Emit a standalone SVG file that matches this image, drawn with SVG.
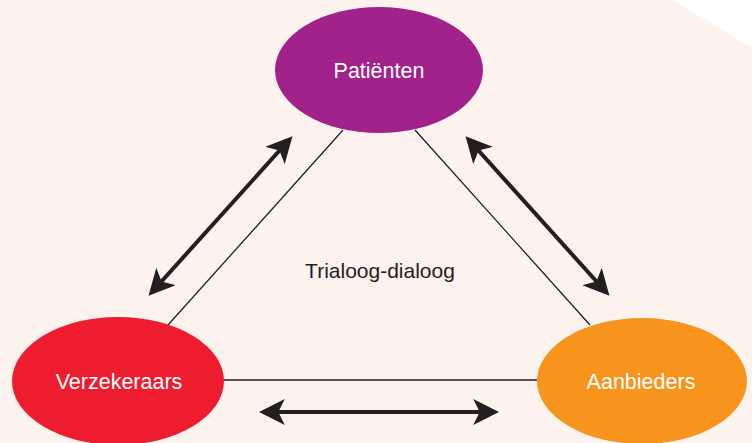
<svg xmlns="http://www.w3.org/2000/svg" width="752" height="443" viewBox="0 0 752 443">
<style>
.lbl{font-family:"Liberation Sans",Arial,sans-serif;font-size:21.5px;fill:#ffffff;text-anchor:middle;dominant-baseline:central}
.thin{stroke:#231f20;stroke-width:1.3;fill:none}
.arr{stroke:#231f20;stroke-width:4;fill:none;marker-start:url(#ah);marker-end:url(#ah)}
</style>
<defs>
<marker id="ah" viewBox="0 0 10 10" refX="8" refY="5" markerWidth="6.5" markerHeight="6.5" orient="auto-start-reverse" markerUnits="strokeWidth">
<path d="M0,0 L10,5 L0,10 L2.5,5 Z" fill="#231f20"/>
</marker>
</defs>
<rect width="752" height="443" fill="#fcf3ef"/>
<polygon points="673,0 752,0 752,48" fill="#ffffff"/>
<g id="connectors">
<line class="thin" x1="343" y1="130" x2="168" y2="325"/>
<line class="thin" x1="415" y1="130" x2="590" y2="325"/>
<line class="thin" x1="224" y1="380" x2="537" y2="380"/>
<line class="arr" x1="289" y1="140" x2="152" y2="292"/>
<line class="arr" x1="469" y1="140" x2="606" y2="292"/>
<line class="arr" x1="264" y1="412" x2="494" y2="412"/>
</g>
<g id="patienten">
<ellipse cx="379" cy="70" rx="104" ry="63" fill="#a0228a"/>
<text class="lbl" x="379" y="71">Patiënten</text>
</g>
<g id="verzekeraars">
<ellipse cx="118" cy="381" rx="106" ry="64" fill="#ed1c2e"/>
<text class="lbl" x="119" y="382">Verzekeraars</text>
</g>
<g id="aanbieders">
<ellipse cx="642" cy="381" rx="105" ry="63" fill="#f7941d"/>
<text class="lbl" x="641" y="382">Aanbieders</text>
</g>
<g id="center-label">
<text x="380" y="270" style="font-family:'Liberation Sans',Arial,sans-serif;font-size:21px;fill:#231f20;text-anchor:middle;dominant-baseline:central">Trialoog-dialoog</text>
</g>
</svg>
